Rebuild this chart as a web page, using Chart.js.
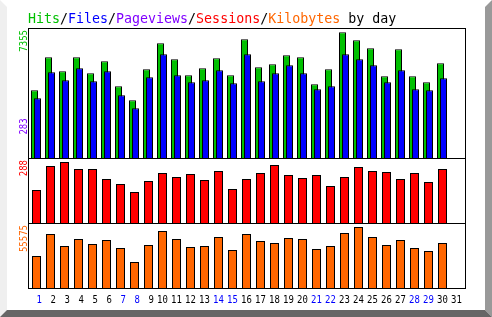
<!DOCTYPE html>
<html><head><meta charset="utf-8">
<script src="https://cdn.jsdelivr.net/npm/chart.js@4.4.1/dist/chart.umd.min.js"></script>
<style>html,body{margin:0;padding:0;background:#fff;}canvas{display:block;}</style>
</head><body>
<canvas id="c" width="492" height="317"></canvas>
<script>
// ---- data ----
const days = ['1','2','3','4','5','6','7','8','9','10','11','12','13','14','15','16','17','18','19','20','21','22','23','24','25','26','27','28','29','30','31'];
const weekendDays = ['1','7','8','14','15','21','22','28','29'];
const hits = [3961,5892,5073,5892,4956,5658,4195,3376,5190,6711,5775,4839,5248,5833,4839,6945,5307,5482,6009,5892,4312,5190,7355,6887,6419,4780,6360,4780,4429,5541];
const files = [3493,5014,4546,5248,4488,5073,3668,2908,4722,6068,4839,4429,4546,5131,4371,6068,4488,4956,5424,4956,4020,4195,6068,5775,5424,4429,5131,4020,3961,4663];
const sessions = [156,269,288,255,255,208,184,146,198,236,217,231,203,246,161,208,236,274,227,212,227,175,217,264,246,241,208,236,194,255];
const kbytes = [29154,49197,38265,44643,40087,43731,36443,23688,39176,51930,44643,37354,38265,46465,34621,49197,42820,40998,45553,44643,35532,38265,50109,55575,46465,39176,43731,36443,33710,40998];
const pageviewsMax = 283;
const titleParts = [['Hits','#00c000'],['/','#000000'],['Files','#0000ff'],['/','#000000'],['Pageviews','#8000ff'],['/','#000000'],['Sessions','#ff0000'],['/','#000000'],['Kilobytes','#ff6600'],[' by day','#000000']];

// ---- colours ----
const C = {hits:'#00c000', files:'#0000ff', pages:'#8000ff', sess:'#ff0000', kb:'#ff6600'};

function stretchText(ctx, s, x, y, color, font, align, rot, sy) {
  ctx.save();
  ctx.translate(x, y);
  if (rot) ctx.rotate(rot);
  ctx.scale(1, sy || 1);
  ctx.font = font; ctx.fillStyle = color; ctx.textAlign = align; ctx.textBaseline = 'alphabetic';
  ctx.fillText(s, 0, 0);
  ctx.restore();
}

const bgPlugin = {
  id: 'bg',
  beforeDraw(chart) {
    const ctx = chart.ctx, W = chart.width, H = chart.height, b = 7;
    ctx.save();
    ctx.fillStyle = '#ffffff'; ctx.fillRect(0, 0, W, H);
    const poly = (pts, col) => { ctx.beginPath(); ctx.moveTo(pts[0][0], pts[0][1]); for (const p of pts.slice(1)) ctx.lineTo(p[0], p[1]); ctx.closePath(); ctx.fillStyle = col; ctx.fill(); };
    poly([[0,0],[b,b],[b,H-b],[0,H]], '#efefef');
    poly([[W,0],[W-b,b],[W-b,H-b],[W,H]], '#999999');
    poly([[0,H],[b,H-b],[W-b,H-b],[W,H]], '#666666');
    ctx.restore();
  }
};

const shiftPlugin = {
  id: 'shift',
  beforeDatasetDraw(chart, args) { const s = chart.data.datasets[args.index].shiftX || 0; chart.ctx.save(); chart.ctx.translate(s, 0); },
  afterDatasetDraw(chart) { chart.ctx.restore(); }
};

const framePlugin = {
  id: 'frame',
  afterDraw(chart) {
    const ctx = chart.ctx, a = chart.chartArea, s = chart.scales;
    const L = a.left - 1.5 + 0.5, R = a.right + 1.5 + 0.5, T = a.top + 0.5, B = a.bottom + 0.5;
    ctx.save();
    ctx.strokeStyle = '#000'; ctx.lineWidth = 1;
    ctx.strokeRect(L, T, R - L, B - T);
    ctx.beginPath();
    for (const id of ['yHits', 'ySess']) { const y = Math.round(s[id].bottom) + 0.5; ctx.moveTo(L, y); ctx.lineTo(R, y); }
    ctx.stroke();
    ctx.restore();

    // title
    ctx.save();
    const tf = "13.3px 'DejaVu Sans Mono'";
    ctx.font = tf;
    let x = 28;
    for (const [t, col] of titleParts) {
      stretchText(ctx, t, x, 23.3, col, tf, 'left', 0, 1.12);
      ctx.font = tf;
      x += ctx.measureText(t).width;
    }
    ctx.restore();

    // rotated max labels
    const lf = "9px 'DejaVu Sans Mono'";
    const lx = 26.7;
    stretchText(ctx, String(Math.max(...hits)), lx, s.yHits.top + 2, C.hits, lf, 'right', -Math.PI / 2, 1.12);
    stretchText(ctx, String(pageviewsMax), lx, s.yHits.bottom - 39.7, C.pages, lf, 'right', -Math.PI / 2, 1.12);
    stretchText(ctx, String(Math.max(...sessions)), lx, s.ySess.top + 2, C.sess, lf, 'right', -Math.PI / 2, 1.12);
    stretchText(ctx, String(Math.max(...kbytes)), lx, s.yKb.top + 2, C.kb, lf, 'right', -Math.PI / 2, 1.12);

    // day labels
    days.forEach((d, i) => {
      const px = s.x.getPixelForValue(i);
      const col = weekendDays.includes(d) ? '#0000ff' : '#000000';
      stretchText(ctx, d.padStart(2, ' '), px, 303.3, col, lf, 'center', 0, 1.12);
    });
  }
};

const barCommon = { borderColor: '#000000', borderWidth: 1, grouped: false, inflateAmount: 0, categoryPercentage: 1 };

new Chart(document.getElementById('c'), {
  type: 'bar',
  data: {
    labels: days,
    datasets: [
      Object.assign({ label: 'Files', data: files, backgroundColor: C.files, yAxisID: 'yHits', barThickness: 7, shiftX: 1, order: 1 }, barCommon),
      Object.assign({ label: 'Hits', data: hits, backgroundColor: C.hits, yAxisID: 'yHits', barThickness: 7, shiftX: -2, order: 2 }, barCommon),
      Object.assign({ label: 'Sessions', data: sessions, backgroundColor: C.sess, yAxisID: 'ySess', barThickness: 9, order: 3 }, barCommon),
      Object.assign({ label: 'Kilobytes', data: kbytes, backgroundColor: C.kb, yAxisID: 'yKb', barThickness: 9, order: 4 }, barCommon)
    ]
  },
  options: {
    responsive: false,
    animation: false,
    devicePixelRatio: 1,
    events: [],
    layout: { padding: { left: 29.5, right: 28.5, top: 28, bottom: 29 } },
    plugins: { legend: { display: false }, title: { display: false }, tooltip: { enabled: false } },
    scales: {
      x: { type: 'category', display: false, offset: true },
      yHits: { type: 'linear', position: 'left', display: false, stack: 'panels', stackWeight: 2, weight: 3, min: 0, max: 7606 },
      ySess: { type: 'linear', position: 'left', display: false, stack: 'panels', stackWeight: 1, weight: 2, min: 0, max: 307 },
      yKb: { type: 'linear', position: 'left', display: false, stack: 'panels', stackWeight: 1, weight: 1, min: 0, max: 59220 }
    }
  },
  plugins: [bgPlugin, shiftPlugin, framePlugin]
});
</script>
</body></html>
